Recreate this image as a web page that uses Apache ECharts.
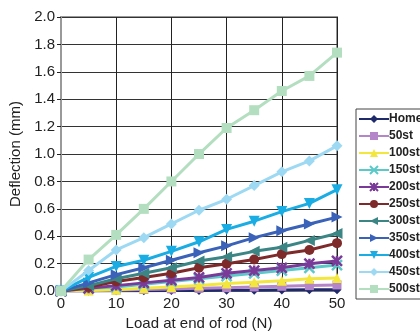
<!DOCTYPE html>
<html><head><meta charset="utf-8">
<script src="https://cdn.jsdelivr.net/npm/echarts@6/dist/echarts.min.js"></script>
<style>html,body{margin:0;padding:0;background:#fff}#c{width:420px;height:336px}</style>
</head><body><div id="c"></div>
<script>
const loads = [0,5,10,15,20,25,30,35,40,45,50];
const yTicks = ['0.0','0.2','0.4','0.6','0.8','1.0','1.2','1.4','1.6','1.8','2.0'];
const seriesNames = ['Home','50st','100st','150st','200st','250st','300st','350st','400st','450st','500st'];
const home   = [0,0.001,0.002,0.003,0.004,0.005,0.006,0.007,0.008,0.009,0.01];
const st50   = [0,0.004,0.008,0.012,0.016,0.02,0.025,0.03,0.035,0.04,0.045];
const st100  = [0,0.005,0.01,0.02,0.03,0.04,0.055,0.065,0.075,0.09,0.095];
const st150  = [0,0.02,0.03,0.05,0.07,0.09,0.11,0.13,0.15,0.17,0.19];
const st200  = [0,0.02,0.04,0.06,0.08,0.10,0.13,0.15,0.17,0.20,0.22];
const st250  = [0,0.03,0.07,0.10,0.13,0.17,0.20,0.23,0.27,0.30,0.35];
const st300  = [0,0.04,0.09,0.13,0.17,0.22,0.25,0.29,0.32,0.37,0.42];
const st350  = [0,0.06,0.12,0.17,0.225,0.28,0.33,0.39,0.44,0.49,0.54];
const st400  = [0,0.10,0.18,0.225,0.29,0.36,0.45,0.51,0.58,0.64,0.74];
const st450  = [0,0.15,0.30,0.39,0.49,0.59,0.67,0.77,0.87,0.95,1.06];
const st500  = [0,0.23,0.41,0.60,0.80,1.00,1.19,1.32,1.46,1.57,1.74];
const allData = [home,st50,st100,st150,st200,st250,st300,st350,st400,st450,st500];
const colors = ['#1f2a6b','#b485c9','#f3e63c','#5cc9c9','#7a3a98','#7f2a2a','#3b8585','#3a62b8','#19ade3','#9ed9f3','#b3dfc0'];
const symbols = ['diamond','rect','triangle',
  'path://M0,0L2,2M2,0L0,2',
  'path://M0,0L2,2M2,0L0,2M1,0L1,2',
  'circle',
  'path://M0,1L2,0L2,2Z',
  'path://M0,0L2,1L0,2Z',
  'path://M0,0L2,0L1,2Z',
  'diamond','rect'];
const sizes = [9,9,10,10,10,10,11,11,11,11,10];
const series = seriesNames.map((n,i)=>({
  name:n, type:'line', data: loads.map((x,j)=>[x, allData[i][j]]),
  symbol: symbols[i], symbolSize: sizes[i], showSymbol:true,
  lineStyle:{color:colors[i], width:3},
  itemStyle:{color:colors[i], borderColor:colors[i], borderWidth:(i===3||i===4)?2.5:0},
  z: 2+i
}));
const chart = echarts.init(document.getElementById('c'));
chart.setOption({
  animation:false,
  textStyle:{fontFamily:'Liberation Sans, sans-serif'},
  grid:{left:57,right:83,top:17,bottom:43,show:true,borderColor:'#999',borderWidth:2},
  xAxis:{type:'value',min:0,max:50,interval:10,
    name:'Load at end of rod (N)',nameLocation:'middle',nameGap:20,
    nameTextStyle:{fontSize:15,color:'#222'},
    axisLine:{show:true,lineStyle:{color:'#999',width:2}},
    axisTick:{show:false},
    axisLabel:{fontSize:15,color:'#222',margin:5},
    splitLine:{show:true,lineStyle:{color:'#222',width:1}}},
  yAxis:{type:'value',min:0,max:2,interval:0.2,
    name:'Deflection (mm)',nameLocation:'middle',nameGap:38,
    nameTextStyle:{fontSize:15,color:'#222'},
    axisLine:{show:true,lineStyle:{color:'#999',width:2}},
    axisTick:{show:true,length:4,lineStyle:{color:'#222'}},
    axisLabel:{fontSize:15,color:'#222',margin:6,formatter:(v)=>yTicks[Math.round(v/0.2)]},
    splitLine:{show:true,lineStyle:{color:'#333',width:1}}},
  legend:{orient:'vertical',left:356,top:109,data:seriesNames,
    itemWidth:30,itemHeight:10,itemGap:5,
    padding:[4,40,4,2],borderColor:'#444',borderWidth:1,
    textStyle:{fontSize:12,lineHeight:12,fontWeight:'bold',color:'#222',padding:[0,0,0,-5]}},
  series: series
});
</script></body></html>
